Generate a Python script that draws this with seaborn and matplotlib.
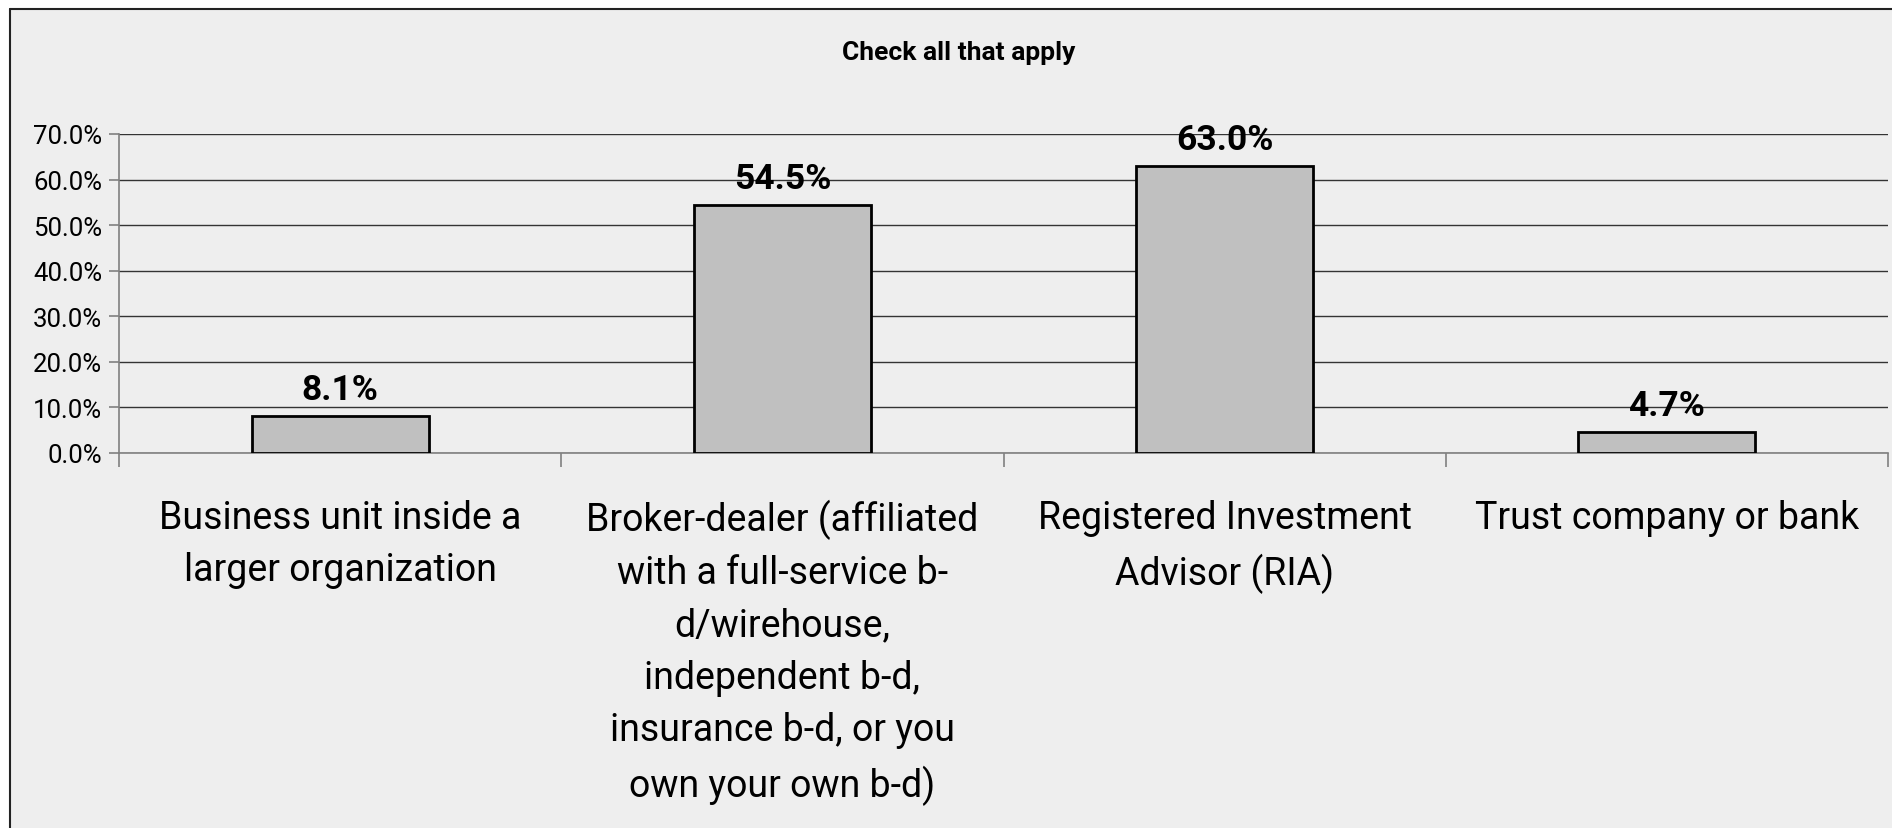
import matplotlib
matplotlib.use("Agg")
import matplotlib.pyplot as plt
import seaborn as sns
from matplotlib.ticker import FixedLocator, PercentFormatter
import pandas as pd

categories = [
    "Business unit inside a\nlarger organization",
    "Broker-dealer (affiliated\nwith a full-service b-\nd/wirehouse,\nindependent b-d,\ninsurance b-d, or you\nown your own b-d)",
    "Registered Investment\nAdvisor (RIA)",
    "Trust company or bank",
]
values = [8.1, 54.5, 63.0, 4.7]
value_labels = ["8.1%", "54.5%", "63.0%", "4.7%"]
yticks = [0, 10, 20, 30, 40, 50, 60, 70]
title = "Check all that apply"

sns.set_theme(style="white")
plt.rcParams["font.family"] = ["Roboto", "DejaVu Sans"]
plt.rcParams["text.color"] = "black"
plt.rcParams["xtick.color"] = "black"
plt.rcParams["ytick.color"] = "black"

W, H = 1892, 829
fig = plt.figure(figsize=(W / 100, H / 100), dpi=100)
fig.patch.set_facecolor("white")

# chart area background and border
bg = plt.Rectangle((10 / W, 0), 1, 1 - 10 / H, transform=fig.transFigure,
                   facecolor="#EEEEEE", edgecolor="none", zorder=-10)
fig.patches.append(bg)
fig.lines.append(plt.Line2D([10 / W, 10 / W], [0, 1 - 10 / H], transform=fig.transFigure,
                            color="#222222", lw=1.5))
fig.lines.append(plt.Line2D([10 / W, 1], [1 - 10 / H, 1 - 10 / H], transform=fig.transFigure,
                            color="#222222", lw=1.5))

ax = fig.add_axes([119 / W, 375 / H, 1769 / W, 319 / H])
ax.set_facecolor("#EEEEEE")

df = pd.DataFrame({"cat": categories, "val": values})
sns.barplot(data=df, x="cat", y="val", color="#C0C0C0", edgecolor="black",
            linewidth=2, width=0.4, saturation=1, ax=ax, zorder=3)

ax.set_xlim(-0.5, 3.5)
ax.set_ylim(0, 70)
ax.set_yticks(yticks)
ax.yaxis.set_major_formatter(PercentFormatter(decimals=1))
ax.grid(axis="y", color="#333333", lw=1.0, zorder=0)
ax.grid(axis="x", visible=False)
ax.set_axisbelow(True)
ax.set_xlabel("")
ax.set_ylabel("")

for s in ["top", "right"]:
    ax.spines[s].set_visible(False)
for s in ["left", "bottom"]:
    ax.spines[s].set_color("#808080")
    ax.spines[s].set_linewidth(1.2)

ax.tick_params(axis="y", which="major", length=7, color="#808080", width=1.2,
               labelsize=18.5, pad=5, left=True, labelcolor="black")
ax.tick_params(axis="x", which="major", length=0, labelsize=27, pad=33, labelcolor="black")
ax.xaxis.set_minor_locator(FixedLocator([-0.5, 0.5, 1.5, 2.5, 3.5]))
ax.tick_params(axis="x", which="minor", length=10, color="#808080", width=1.2,
               direction="out", bottom=True)
for lbl in ax.get_xticklabels():
    lbl.set_linespacing(1.525)

for i, (v, t) in enumerate(zip(values, value_labels)):
    ax.annotate(t, (i, v), xytext=(0, 7), textcoords="offset points",
                ha="center", va="bottom", fontsize=25.5, fontweight="bold", color="black")

fig.text(959 / W, 1 - 53 / H, title, ha="center", va="center",
         fontsize=19, fontweight="bold", color="black")

fig.savefig("out.png", dpi=100)
